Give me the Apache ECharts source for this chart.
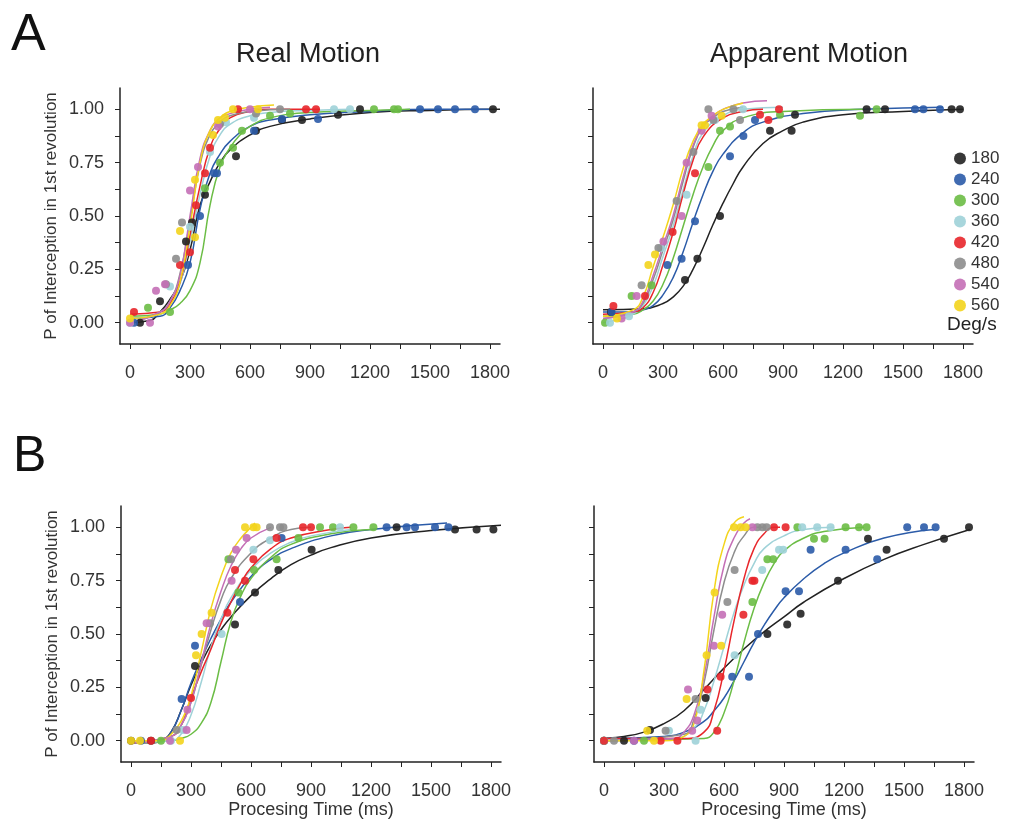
<!DOCTYPE html>
<html>
<head>
<meta charset="utf-8">
<script src="https://cdn.jsdelivr.net/npm/echarts@6/dist/echarts.min.js"></script>
<style>
  html, body { margin: 0; background: #fff; }
  #chart { width: 1013px; height: 824px; }
</style>
</head>
<body>
<div id="chart"></div>
<script>
// speeds (Deg/s) shown in the legend
var speeds = ['180', '240', '300', '360', '420', '480', '540', '560'];
var speedColors = ['#222222', '#2b5ba8', '#6bbd45', '#9fd2d8', '#e8262b', '#8d8d8d', '#c46fb6', '#f3d41c'];

var xLabels = [0, 300, 600, 900, 1200, 1500, 1800];
var xTicks = [0, 150, 300, 450, 600, 750, 900, 1050, 1200, 1350, 1500, 1650, 1800];
var yLabels = [0, 0.25, 0.5, 0.75, 1];
var yTicks = [0, 0.125, 0.25, 0.375, 0.5, 0.625, 0.75, 0.875, 1];

// ---- A, real motion: observed points, one list per speed ----
var ptsRealA = [
  [[50,0],[150,0.1],[280,0.38],[310,0.47],[375,0.6],[530,0.78],[630,0.9],[760,0.95],[860,0.95],[1040,0.975],[1150,1.0],[1815,1.0]],
  [[20,0],[290,0.27],[350,0.5],[420,0.7],[435,0.7],[620,0.9],[760,0.955],[940,0.955],[1450,1.0],[1540,1.0],[1625,1.0],[1725,1.0]],
  [[90,0.07],[200,0.05],[375,0.63],[450,0.75],[515,0.82],[560,0.9],[700,0.97],[800,0.98],[1220,1.0],[1320,1.0],[1340,1.0]],
  [[0,0],[200,0.17],[300,0.45],[400,0.8],[480,0.94],[620,0.96],[1020,1.0],[1100,1.0]],
  [[20,0.05],[250,0.27],[300,0.33],[330,0.55],[375,0.7],[400,0.82],[540,1.0],[880,1.0],[930,1.0]],
  [[180,0.18],[230,0.3],[260,0.47],[450,0.93],[630,0.98],[750,1.0]],
  [[0,0],[100,0],[130,0.15],[175,0.18],[300,0.62],[340,0.73],[440,0.92],[600,1.0]],
  [[0,0.02],[250,0.43],[325,0.4],[325,0.67],[415,0.88],[440,0.95],[475,0.96],[515,1.0],[640,1.0]]
];
// fitted curves
var fitRealA = [
  [[0,0],[100,0.01],[150,0.05],[200,0.11],[250,0.19],[300,0.34],[350,0.55],[400,0.66],[450,0.75],[500,0.81],[600,0.88],[700,0.92],[900,0.955],[1200,0.985],[1500,0.995],[1850,1.0]],
  [[0,0.02],[150,0.03],[200,0.07],[250,0.15],[300,0.28],[350,0.53],[400,0.7],[450,0.79],[500,0.85],[600,0.92],[700,0.95],[900,0.975],[1200,0.99],[1500,1.0],[1800,1.0]],
  [[0,0.03],[150,0.04],[200,0.06],[250,0.09],[300,0.15],[350,0.28],[400,0.55],[450,0.73],[500,0.82],[550,0.88],[600,0.92],[700,0.96],[900,0.985],[1200,0.995],[1400,1.0]],
  [[0,0.02],[150,0.04],[200,0.08],[250,0.18],[300,0.38],[350,0.6],[400,0.78],[450,0.88],[500,0.93],[600,0.97],[700,0.985],[900,0.995],[1100,1.0]],
  [[0,0.04],[150,0.05],[200,0.09],[250,0.19],[300,0.41],[350,0.64],[400,0.82],[450,0.91],[500,0.96],[600,0.99],[700,1.0],[950,1.0]],
  [[0,0],[150,0.05],[200,0.1],[250,0.23],[300,0.48],[350,0.74],[400,0.88],[450,0.94],[500,0.97],[600,0.99],[800,1.0]],
  [[0,0],[150,0.05],[200,0.1],[250,0.22],[300,0.5],[350,0.77],[400,0.9],[450,0.96],[500,0.98],[600,1.0],[700,1.01]],
  [[0,0.02],[150,0.04],[200,0.08],[250,0.19],[300,0.45],[350,0.75],[400,0.9],[450,0.96],[500,0.99],[600,1.01],[720,1.02]]
];

// ---- A, apparent motion ----
var ptsAppA = [
  [[40,0.05],[410,0.2],[472,0.3],[585,0.5],[835,0.9],[943,0.9],[960,0.975],[1318,1.0],[1410,1.0],[1743,1.0],[1785,1.0]],
  [[43,0.05],[322,0.27],[393,0.3],[460,0.475],[635,0.78],[702,0.875],[760,0.95],[1560,1.0],[1602,1.0],[1685,1.0]],
  [[10,0],[143,0.125],[243,0.175],[527,0.73],[585,0.9],[635,0.92],[885,0.975],[1285,0.97],[1368,1.0]],
  [[35,0],[130,0.03],[290,0.35],[418,0.6],[560,0.95],[700,1.0]],
  [[52,0.078],[210,0.125],[348,0.425],[460,0.7],[785,0.975],[827,0.95],[880,1.0]],
  [[193,0.175],[277,0.35],[368,0.57],[452,0.8],[527,1.0],[552,0.95],[652,1.0],[685,0.95]],
  [[93,0.02],[168,0.125],[302,0.38],[393,0.5],[418,0.75],[493,0.9],[543,0.97]],
  [[70,0.02],[227,0.27],[260,0.32],[493,0.925],[510,0.925],[593,0.97]]
];
var fitAppA = [
  [[0,0.06],[200,0.065],[300,0.09],[350,0.12],[400,0.17],[450,0.25],[500,0.35],[550,0.46],[600,0.56],[650,0.65],[700,0.73],[800,0.84],[900,0.9],[1000,0.94],[1200,0.975],[1500,0.99],[1800,1.0]],
  [[0,0.05],[150,0.05],[200,0.06],[250,0.08],[300,0.13],[350,0.21],[400,0.33],[450,0.47],[500,0.6],[550,0.71],[600,0.79],[700,0.89],[800,0.94],[1000,0.98],[1300,1.0],[1700,1.01]],
  [[0,0.03],[150,0.04],[200,0.06],[250,0.1],[300,0.18],[350,0.3],[400,0.45],[450,0.6],[500,0.73],[550,0.83],[600,0.9],[700,0.96],[900,0.99],[1300,1.0]],
  [[0,0],[100,0.02],[150,0.04],[200,0.08],[250,0.17],[300,0.31],[350,0.45],[400,0.62],[450,0.78],[500,0.89],[600,0.97],[700,1.0],[900,1.01]],
  [[0,0.04],[150,0.05],[200,0.07],[250,0.14],[300,0.27],[350,0.42],[400,0.6],[450,0.76],[500,0.87],[600,0.96],[700,0.99],[800,1.0]],
  [[0,0.02],[150,0.05],[200,0.09],[250,0.2],[300,0.34],[350,0.48],[400,0.66],[450,0.82],[500,0.92],[550,0.96],[600,0.99],[700,1.01]],
  [[0,0.02],[150,0.05],[200,0.1],[250,0.22],[300,0.36],[350,0.5],[400,0.68],[450,0.83],[500,0.92],[550,0.97],[600,1.0],[700,1.03],[820,1.04]],
  [[0,0.03],[150,0.06],[200,0.12],[250,0.26],[300,0.4],[350,0.55],[400,0.72],[450,0.85],[500,0.93],[550,0.97],[600,1.0],[700,1.03]]
];

// ---- B, real motion ----
var ptsRealB = [
  [[0,0],[100,0],[320,0.35],[520,0.545],[620,0.695],[737,0.8],[903,0.895],[1328,1.0],[1620,0.99],[1728,0.99],[1812,0.99]],
  [[50,0],[253,0.195],[320,0.445],[545,0.65],[753,0.95],[1278,1.0],[1378,1.0],[1420,1.0],[1520,1.0],[1587,1.0]],
  [[150,0],[487,0.85],[537,0.695],[615,0.8],[728,0.85],[837,0.95],[945,1.0],[1010,1.0],[1112,1.0],[1212,1.0]],
  [[200,0],[260,0.05],[453,0.5],[612,0.895],[695,0.94],[1045,1.0]],
  [[100,0],[300,0.2],[482,0.6],[520,0.8],[570,0.75],[612,0.85],[728,0.95],[860,1.0],[900,1.0]],
  [[228,0.05],[395,0.55],[500,0.85],[695,1.0],[745,1.0],[762,1.0]],
  [[195,0],[278,0.05],[282,0.145],[378,0.55],[503,0.75],[525,0.895],[578,0.95]],
  [[0,0],[45,0],[245,0],[325,0.4],[353,0.5],[403,0.6],[570,1.0],[612,1.0],[628,1.0]]
];
var fitRealB = [
  [[0,-0.01],[100,-0.01],[150,0],[200,0.04],[250,0.14],[300,0.26],[350,0.36],[400,0.45],[450,0.52],[500,0.58],[600,0.68],[700,0.76],[800,0.825],[900,0.87],[1000,0.905],[1200,0.95],[1500,0.985],[1850,1.01]],
  [[0,-0.01],[150,0],[200,0.04],[250,0.14],[300,0.27],[350,0.38],[400,0.48],[450,0.57],[500,0.65],[600,0.77],[700,0.85],[800,0.9],[1000,0.96],[1200,0.99],[1580,1.02]],
  [[0,-0.01],[200,0],[250,0.01],[300,0.03],[350,0.08],[400,0.18],[450,0.37],[500,0.56],[550,0.68],[600,0.76],[700,0.86],[800,0.92],[1000,0.97],[1200,0.99]],
  [[0,-0.01],[200,0],[250,0.03],[300,0.12],[350,0.27],[400,0.44],[450,0.57],[500,0.67],[600,0.8],[700,0.88],[800,0.93],[900,0.96],[1100,0.99]],
  [[0,-0.01],[200,0.02],[250,0.07],[300,0.2],[350,0.32],[400,0.43],[450,0.55],[500,0.65],[550,0.74],[600,0.81],[700,0.9],[800,0.95],[1000,0.99],[1100,1.0]],
  [[0,-0.01],[200,0.02],[250,0.07],[300,0.18],[350,0.35],[400,0.52],[450,0.66],[500,0.76],[600,0.88],[700,0.95],[800,0.99],[900,1.0]],
  [[0,-0.01],[200,0.02],[250,0.07],[300,0.18],[350,0.36],[400,0.55],[450,0.7],[500,0.82],[550,0.9],[600,0.95],[700,1.0]],
  [[0,0],[150,0],[200,0.03],[250,0.09],[300,0.21],[350,0.41],[400,0.62],[450,0.77],[500,0.88],[550,0.95],[600,1.0],[620,1.02]]
];

// ---- B, apparent motion ----
var ptsAppB = [
  [[0,0],[100,0],[230,0.05],[508,0.2],[817,0.5],[916,0.545],[983,0.595],[1170,0.75],[1320,0.947],[1413,0.895],[1700,0.947],[1825,1.0]],
  [[0,0],[150,0],[641,0.3],[725,0.3],[770,0.5],[908,0.7],[975,0.7],[1033,0.895],[1208,0.895],[1366,0.85],[1516,1.0],[1600,1.0],[1658,1.0]],
  [[0,0],[200,0],[742,0.65],[817,0.85],[846,0.85],[967,1.0],[1050,0.947],[1103,0.947],[1208,1.0],[1275,1.0],[1313,1.0]],
  [[0,0],[325,0.047],[458,0],[483,0.145],[653,0.4],[791,0.8],[875,0.895],[896,0.895],[991,1.0],[1066,1.0],[1133,1.0]],
  [[0,0],[283,0],[367,0],[517,0.24],[566,0.047],[583,0.3],[697,0.59],[742,0.75],[752,0.75],[850,1.0],[908,1.0]],
  [[50,0],[308,0.047],[458,0.195],[617,0.65],[653,0.8],[767,1.0],[792,1.0],[813,1.0]],
  [[150,0],[420,0.24],[441,0.047],[466,0.095],[550,0.445],[591,0.59],[742,1.0]],
  [[250,0],[216,0.047],[413,0.195],[513,0.4],[553,0.695],[586,0.445],[650,1.0],[683,1.0],[708,1.0]]
];
var fitAppB = [
  [[0,0.01],[100,0.02],[200,0.04],[300,0.08],[400,0.14],[500,0.24],[600,0.34],[700,0.43],[800,0.51],[900,0.58],[1000,0.65],[1200,0.76],[1400,0.85],[1600,0.92],[1830,0.99]],
  [[0,0.01],[300,0.02],[400,0.04],[500,0.09],[550,0.14],[600,0.2],[650,0.28],[700,0.37],[750,0.46],[800,0.54],[850,0.61],[900,0.67],[1000,0.76],[1100,0.83],[1200,0.88],[1400,0.95],[1650,0.99]],
  [[0,0],[500,0.01],[550,0.04],[600,0.13],[650,0.28],[700,0.46],[750,0.62],[800,0.74],[850,0.83],[900,0.89],[1000,0.95],[1100,0.98],[1300,1.0]],
  [[0,0],[350,0.01],[450,0.06],[500,0.14],[550,0.28],[600,0.44],[650,0.6],[700,0.73],[750,0.83],[800,0.9],[900,0.96],[1000,0.99],[1150,1.0]],
  [[0,0.01],[400,0.01],[500,0.04],[550,0.14],[600,0.33],[650,0.56],[700,0.76],[750,0.9],[800,0.97],[850,1.0],[880,1.0]],
  [[0,0],[400,0.03],[450,0.1],[500,0.27],[550,0.52],[600,0.74],[650,0.88],[700,0.96],[750,1.0],[800,1.0]],
  [[0,0],[350,0.01],[400,0.04],[450,0.12],[500,0.3],[550,0.58],[600,0.82],[650,0.95],[700,1.02],[730,1.04]],
  [[0,0],[300,0],[400,0.02],[450,0.08],[500,0.33],[550,0.7],[600,0.92],[650,1.02],[700,1.05]]
];

var panelPts = [ptsRealA, ptsAppA, ptsRealB, ptsAppB];
var panelFit = [fitRealA, fitAppA, fitRealB, fitAppB];

var FONT = 'Liberation Sans, Arial, Helvetica, sans-serif';
var grids = [
  { left: 120, top: 88, width: 380, height: 256 },
  { left: 593, top: 88, width: 380, height: 256 },
  { left: 121, top: 506, width: 380, height: 256 },
  { left: 594, top: 506, width: 380, height: 256 }
];

var xAxes = [], yAxes = [];
grids.forEach(function (g, p) {
  xAxes.push({
    gridIndex: p, type: 'value', min: -50, max: 1850,
    name: p >= 2 ? 'Procesing Time (ms)' : '',
    nameLocation: 'middle', nameGap: 29,
    nameTextStyle: { fontFamily: FONT, fontSize: 18, color: '#333' },
    axisLine: { onZero: false, lineStyle: { color: '#222', width: 1.5 } },
    axisTick: { customValues: xTicks, length: 5, lineStyle: { color: '#222' } },
    axisLabel: {
      customValues: xLabels, margin: 20, fontFamily: FONT, fontSize: 18, color: '#333',
      formatter: function (v) { return String(v); }
    },
    splitLine: { show: false }
  });
  yAxes.push({
    gridIndex: p, type: 'value', min: -0.1, max: 1.1,
    name: (p % 2 === 0) ? 'P of Interception in 1st revolution' : '',
    nameLocation: 'middle', nameRotate: 90, nameGap: 60,
    nameTextStyle: { fontFamily: FONT, fontSize: 17, color: '#333' },
    axisLine: { onZero: false, lineStyle: { color: '#222', width: 1.5 } },
    axisTick: { customValues: yTicks, length: 5, lineStyle: { color: '#222' } },
    axisLabel: {
      show: p % 2 === 0, customValues: yLabels, margin: 16,
      fontFamily: FONT, fontSize: 18, color: '#333',
      formatter: function (v) { return v.toFixed(2); }
    },
    splitLine: { show: false }
  });
});

var series = [];
panelPts.forEach(function (pts, p) {
  pts.forEach(function (d, i) {
    series.push({
      type: 'scatter', name: speeds[i], xAxisIndex: p, yAxisIndex: p,
      data: d, symbolSize: 8, z: 3,
      itemStyle: { color: speedColors[i], opacity: 0.9 }
    });
  });
});
panelFit.forEach(function (fit, p) {
  fit.forEach(function (d, i) {
    series.push({
      type: 'line', name: speeds[i], xAxisIndex: p, yAxisIndex: p,
      data: d, showSymbol: false, smooth: 0.5, z: 2,
      lineStyle: { color: speedColors[i], width: 1.5 },
      itemStyle: { color: speedColors[i] }
    });
  });
});

var chart = echarts.init(document.getElementById('chart'));
chart.setOption({
  animation: false,
  backgroundColor: '#fff',
  grid: grids,
  xAxis: xAxes,
  yAxis: yAxes,
  legend: {
    data: speeds, orient: 'vertical', left: 949, top: 145,
    icon: 'circle', itemWidth: 12, itemHeight: 12, itemGap: 4,
    textStyle: { fontFamily: FONT, fontSize: 17, color: '#333' }
  },
  graphic: [
    { type: 'text', left: 11, top: 10, style: { text: 'A', font: '52px ' + FONT, fill: '#111' } },
    { type: 'text', left: 13, top: 432, style: { text: 'B', font: '50px ' + FONT, fill: '#111' } },
    { type: 'text', x: 308, y: 55, style: { text: 'Real Motion', font: '27px ' + FONT, fill: '#222', textAlign: 'center', textVerticalAlign: 'middle' } },
    { type: 'text', x: 809, y: 55, style: { text: 'Apparent Motion', font: '27px ' + FONT, fill: '#222', textAlign: 'center', textVerticalAlign: 'middle' } },
    { type: 'text', left: 947, top: 315, style: { text: 'Deg/s', font: '19px ' + FONT, fill: '#222' } }
  ],
  series: series
});
</script>
</body>
</html>
